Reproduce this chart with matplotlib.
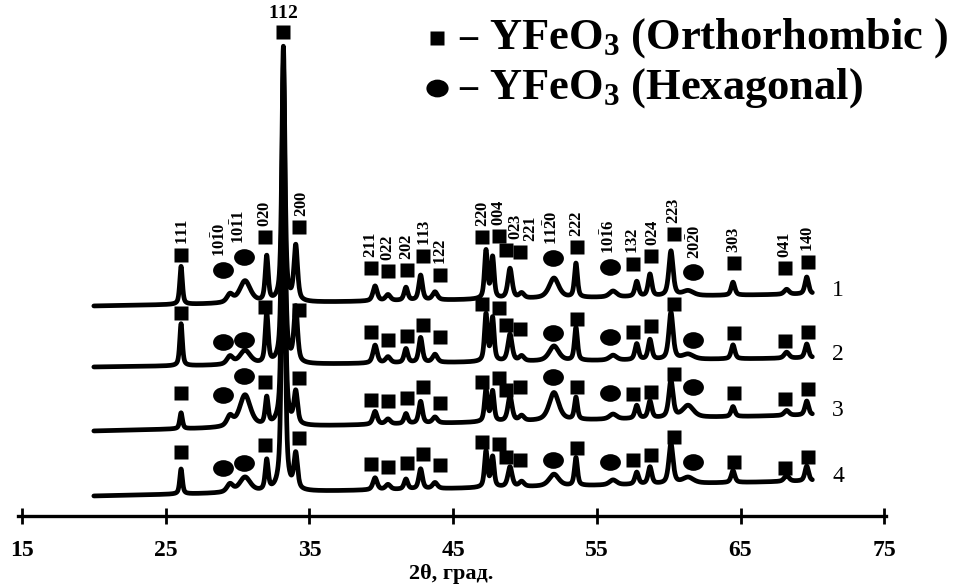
import numpy as np
import matplotlib.pyplot as plt
from matplotlib.path import Path
from matplotlib.transforms import Affine2D

plt.rcParams['font.family'] = ['Liberation Serif', 'DejaVu Serif']
plt.rcParams['mathtext.fontset'] = 'custom'
plt.rcParams['mathtext.rm'] = 'Liberation Serif:bold'
plt.rcParams['mathtext.it'] = 'Liberation Serif:bold'
plt.rcParams['mathtext.bf'] = 'Liberation Serif:bold'

# reflections: Miller indices, 2theta position (deg), phase (o - orthorhombic, h - hexagonal)
hkl = ["111", r"10\bar{1}0", r"10\bar{1}1", "020", "112", "200", "211", "022", "202",
       "113", "122", "220", "004", "023", "221", r"11\bar{2}0", "222", r"10\bar{1}6",
       "132", "024", "223", r"20\bar{2}0", "303", "041", "140"]
two_theta = [26.07, 29.47, 30.52, 32.03, 33.19, 34.05, 39.57, 40.47, 41.72,
             42.74, 43.74, 47.29, 47.75, 48.96, 49.77, 52.02, 53.55, 56.13,
             57.78, 58.70, 60.16, 61.35, 64.48, 68.21, 69.61]
phase = ['o', 'h', 'h', 'o', 'o', 'o', 'o', 'o', 'o',
         'o', 'o', 'o', 'o', 'o', 'o', 'h', 'o', 'h',
         'o', 'o', 'o', 'h', 'o', 'o', 'o']
fwhm = [0.22, 0.5, 0.9, 0.25, 0.25, 0.3, 0.35, 0.4, 0.3,
        0.3, 0.4, 0.25, 0.25, 0.35, 0.4, 0.8, 0.25, 0.6,
        0.3, 0.3, 0.35, 0.9, 0.3, 0.4, 0.3]

# peak intensities (arb. units) for samples 1-4
int_1 = [38, 8, 22, 45, 255, 55, 15, 6, 13, 25, 8, 48, 41, 30, 5, 20, 34, 6, 15, 22, 45, 5, 13, 5, 17]
int_2 = [42, 8, 14, 50, 300, 55, 18, 6, 14, 25, 8, 47, 43, 27, 5, 15, 33, 5, 16, 20, 47, 5, 14, 6, 14]
int_3 = [16, 10, 32, 27, 350, 32, 13, 5, 10, 22, 6, 32, 30, 25, 5, 28, 22, 5, 13, 17, 37, 12, 10, 5, 14]
int_4 = [25, 8, 15, 30, 400, 35, 12, 5, 10, 20, 6, 36, 30, 20, 5, 12, 28, 5, 12, 17, 40, 6, 12, 6, 15]

# background level at 20 and 70 deg (includes vertical offset of each pattern)
bg_start = [210, 149, 85, 20]
bg_end = [222, 158, 101, 35]

# height of the phase markers above the axis for each sample
nan = np.nan
mark_1 = [261, 246, 259, 279, 484, 289, 248, 245, 246, 260, 241, 279, 280, 266, 264, 258, 269, 249, 252, 260, 282, 244, 253, 248, 254]
mark_2 = [203, 174, 176, 209, nan, 206, 184, 176, 180, 191, 179, 212, 208, 191, 187, 183, 197, 179, 184, 190, 212, 176, 183, 175, 184]
mark_3 = [123, 121, 140, 134, nan, 138, 116, 115, 118, 129, 113, 134, 138, 126, 129, 139, 129, 123, 122, 124, 142, 129, 123, 117, 127]
mark_4 = [64, 48, 53, 71, nan, 78, 52, 49, 53, 62, 51, 74, 72, 59, 56, 56, 68, 54, 56, 61, 79, 54, 54, 48, 59]
# small sideways shift of markers / index labels so they do not overlap
mark_dx = [0, -0.5, -0.1, -0.1, 0, 0.25, -0.3, 0, 0.05, 0.2, 0.35, -0.25, 0.45, -0.3,
           -0.1, -0.1, 0.05, -0.2, -0.25, 0.1, 0.2, 0.35, 0.05, -0.1, 0.1]
label_dx = [0.1, -0.2, -0.3, 0, 0, 0.2, 0, 0, 0.05, 0.1, 0.1, 0.05, 0, 0.7,
            0.75, -0.05, 0, -0.05, 0, 0.1, 0, 0.15, 0.05, 0, 0]

intensities = [int_1, int_2, int_3, int_4]
markers = [mark_1, mark_2, mark_3, mark_4]
sample_names = ["1", "2", "3", "4"]


def pseudo_voigt(x, c, w, eta=0.6):
    g = np.exp(-4 * np.log(2) * (x - c) ** 2 / w ** 2)
    l = 1 / (1 + 4 * (x - c) ** 2 / w ** 2)
    return eta * l + (1 - eta) * g


def pattern(x, heights, b0, b1):
    y = b0 + (b1 - b0) * (x - 20) / 50
    for c, w, h in zip(two_theta, fwhm, heights):
        y = y + h * pseudo_voigt(x, c, w)
    return y


# flattened circle used for the hexagonal phase
ellipse = Path.unit_circle().transformed(Affine2D().scale(1.25, 1))

W, H = 957, 585
fig = plt.figure(figsize=(W / 100, H / 100), dpi=100)
x0, x1 = 14.7, 75.1
left_px, px_per_deg = 22 - 0.3 * 14.37, 14.37
ax = fig.add_axes([left_px / W, 69 / H, (x1 - x0) * px_per_deg / W, 516 / H])
ax.set_xlim(x0, x1)
ax.set_ylim(0, 516)

x = np.linspace(20, 70, 3000)
for i in range(4):
    y = pattern(x, intensities[i], bg_start[i], bg_end[i])
    ax.plot(x, y, color='black', lw=3.4, solid_joinstyle='round',
            solid_capstyle='round', zorder=2)
    ax.text(71.8, bg_end[i] + 4, sample_names[i], fontsize=17, ha='center',
            va='center')

    for j, m in enumerate(markers[i]):
        if np.isnan(m):
            continue
        xm = two_theta[j] + mark_dx[j]
        if phase[j] == 'o':
            ax.plot(xm, m, marker='s', ms=10, color='black', mec='none', zorder=3)
        else:
            ax.plot(xm, m, marker=ellipse, ms=15, color='black', mec='none', zorder=3)

# Miller indices above the top pattern
for j, lab in enumerate(hkl):
    xm = two_theta[j] + mark_dx[j] + label_dx[j]
    if lab == "112":
        ax.text(xm, mark_1[j] + 10, "$112$", fontsize=14, ha='center', va='bottom')
    else:
        gap = 13 if phase[j] == 'h' else 10
        ax.text(xm, mark_1[j] + gap, "$" + lab + "$", fontsize=12, rotation=90,
                ha='center', va='bottom')

# axis: bottom line only
for side in ['left', 'right', 'top']:
    ax.spines[side].set_visible(False)
ax.spines['bottom'].set_linewidth(2.4)
ax.set_yticks([])
ax.set_xticks(np.arange(15, 76, 10))
ax.tick_params(axis='x', direction='inout', length=11, width=2, pad=12,
               labelsize=17)
for t in ax.get_xticklabels():
    t.set_fontweight('bold')
ax.set_xlabel("2θ, град.", fontsize=16, fontweight='bold', labelpad=2)

# legend
def fig_xy(px, py):
    return px / W, 1 - py / H

ax.plot(*fig_xy(437, 38), marker='s', ms=10, color='black', mec='none',
        transform=fig.transFigure, clip_on=False)
ax.plot(*fig_xy(437, 88), marker=ellipse, ms=16, color='black', mec='none',
        transform=fig.transFigure, clip_on=False)
for py, txt in [(38, r"YFeO$_3$ (Orthorhombic )"), (88, r"YFeO$_3$ (Hexagonal)")]:
    fig.text(*fig_xy(459, py), "–", fontsize=26, fontweight='bold', va='center')
    fig.text(*fig_xy(489, py), txt, fontsize=32, fontweight='bold', va='center')

fig.savefig("out.png", dpi=100)
